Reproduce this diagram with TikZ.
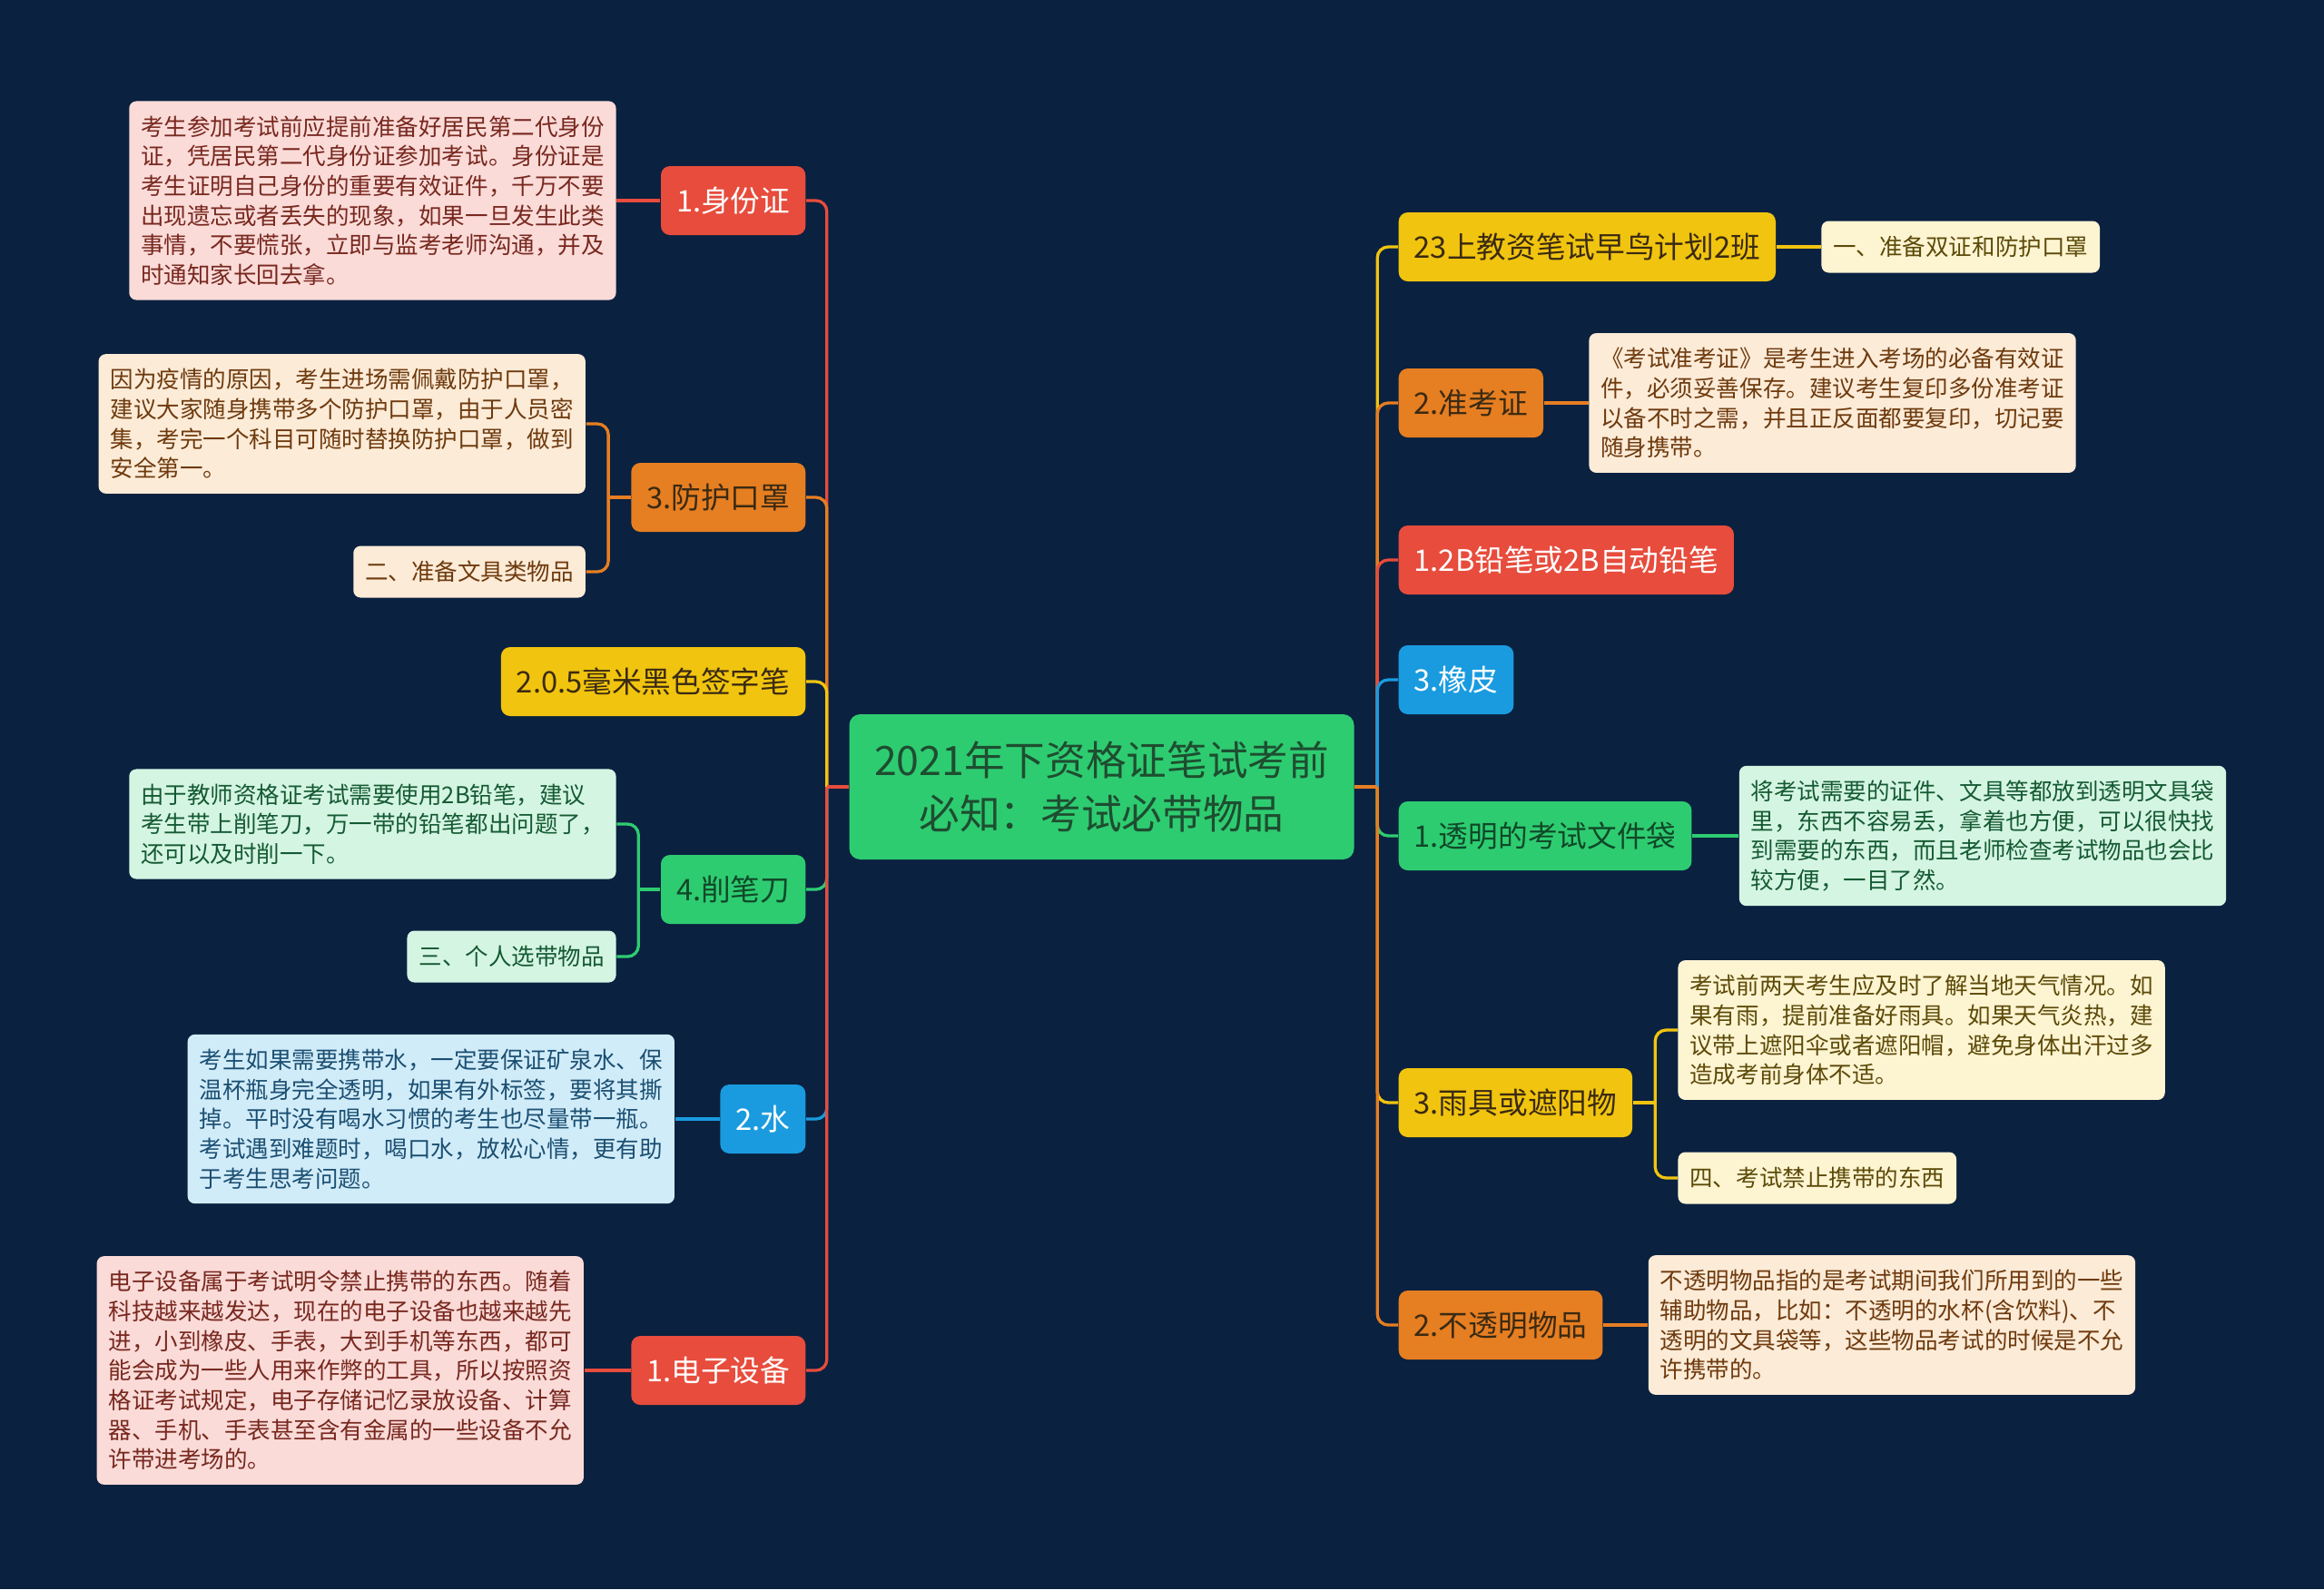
\documentclass[tikz,border=0pt]{standalone}
\usepackage{fontspec}
\setmainfont{Noto Sans CJK SC}
\usetikzlibrary{positioning, backgrounds}

\definecolor{bgnavy}{HTML}{0A2140}
\definecolor{redc}{HTML}{E74C3C}
\definecolor{orangec}{HTML}{E67E22}
\definecolor{yellowc}{HTML}{F1C40F}
\definecolor{greenc}{HTML}{2ECC71}
\definecolor{bluec}{HTML}{1A9BDF}
\definecolor{redlt}{HTML}{FADBD8}
\definecolor{orangelt}{HTML}{FCEBD7}
\definecolor{yellowlt}{HTML}{FDF4D2}
\definecolor{greenlt}{HTML}{D5F5E3}
\definecolor{bluelt}{HTML}{D1ECF9}
\definecolor{redtxt}{HTML}{78281F}
\definecolor{orangetxt}{HTML}{6E3A0E}
\definecolor{yellowtxt}{HTML}{5C4A08}
\definecolor{greentxt}{HTML}{145A32}
\definecolor{bluetxt}{HTML}{1B4F72}
\definecolor{topictxt}{HTML}{3A2A12}
\definecolor{roottxt}{HTML}{1E4D30}

\begin{document}
\begin{tikzpicture}[
    root/.style={rectangle, rounded corners=0.12cm, fill=greenc, text=roottxt, font=\fontsize{12.7}{16.7}\selectfont, align=center, minimum width=5.56cm, minimum height=1.6cm},
    topic/.style={rectangle, rounded corners=0.1cm, font=\fontsize{9.3}{11}\selectfont, minimum height=0.76cm, inner xsep=0.17cm},
    note/.style={rectangle, rounded corners=0.08cm, font=\fontsize{7.26}{9.3}\selectfont, align=left, inner xsep=0.13cm, inner ysep=0.16cm, minimum height=0.57cm},
    redtopic/.style={topic, fill=redc, text=white},
    orangetopic/.style={topic, fill=orangec, text=topictxt},
    yellowtopic/.style={topic, fill=yellowc, text=topictxt},
    greentopic/.style={topic, fill=greenc, text=greentxt!80!black},
    bluetopic/.style={topic, fill=bluec, text=white},
    rednote/.style={note, fill=redlt, text=redtxt},
    orangenote/.style={note, fill=orangelt, text=orangetxt},
    yellownote/.style={note, fill=yellowlt, text=yellowtxt},
    greennote/.style={note, fill=greenlt, text=greentxt},
    bluenote/.style={note, fill=bluelt, text=bluetxt},
    link/.style={line width=0.033cm},
    fork/.style={link, rounded corners=0.12cm}
]

% Root
\node[root] (root) at (12.135,-8.67) {2021年下资格证笔试考前\\必知：考试必带物品};
\coordinate[left=0.24cm of root] (ltrunk);
\coordinate[right=0.25cm of root] (rtrunk);

% Left topics
\node[redtopic, anchor=east] (idcard) at (8.88,-2.21) {1.身份证};
\node[orangetopic, anchor=east] (mask) at (8.88,-5.48) {3.防护口罩};
\node[yellowtopic, anchor=east] (pen) at (8.88,-7.51) {2.0.5毫米黑色签字笔};
\node[greentopic, anchor=east] (sharpener) at (8.88,-9.80) {4.削笔刀};
\node[bluetopic, anchor=east] (water) at (8.88,-12.33) {2.水};
\node[redtopic, anchor=east] (device) at (8.88,-15.10) {1.电子设备};

% Right topics
\node[yellowtopic, anchor=west] (plan) at (15.40,-2.72) {23上教资笔试早鸟计划2班};
\node[orangetopic, anchor=west] (ticket) at (15.40,-4.44) {2.准考证};
\node[redtopic, anchor=west] (pencil) at (15.40,-6.17) {1.2B铅笔或2B自动铅笔};
\node[bluetopic, anchor=west] (eraser) at (15.40,-7.49) {3.橡皮};
\node[greentopic, anchor=west] (folder) at (15.40,-9.21) {1.透明的考试文件袋};
\node[yellowtopic, anchor=west] (umbrella) at (15.40,-12.15) {3.雨具或遮阳物};
\node[orangetopic, anchor=west] (opaque) at (15.40,-14.60) {2.不透明物品};

% Left notes
\node[rednote, left=0.48cm of idcard] (idcard_note) {考生参加考试前应提前准备好居民第二代身份\\证，凭居民第二代身份证参加考试。身份证是\\考生证明自己身份的重要有效证件，千万不要\\出现遗忘或者丢失的现象，如果一旦发生此类\\事情，不要慌张，立即与监考老师沟通，并及\\时通知家长回去拿。};
\node[orangenote, left=0.49cm of mask, yshift=0.81cm] (mask_note) {因为疫情的原因，考生进场需佩戴防护口罩，\\建议大家随身携带多个防护口罩，由于人员密\\集，考完一个科目可随时替换防护口罩，做到\\安全第一。};
\node[orangenote, left=0.49cm of mask, yshift=-0.82cm] (mask_tip) {二、准备文具类物品};
\node[greennote, left=0.48cm of sharpener, yshift=0.72cm] (sharpener_note) {由于教师资格证考试需要使用2B铅笔，建议\\考生带上削笔刀，万一带的铅笔都出问题了，\\还可以及时削一下。};
\node[greennote, left=0.48cm of sharpener, yshift=-0.74cm] (sharpener_tip) {三、个人选带物品};
\node[bluenote, left=0.49cm of water] (water_note) {考生如果需要携带水，一定要保证矿泉水、保\\温杯瓶身完全透明，如果有外标签，要将其撕\\掉。平时没有喝水习惯的考生也尽量带一瓶。\\考试遇到难题时，喝口水，放松心情，更有助\\于考生思考问题。};
\node[rednote, left=0.51cm of device] (device_note) {电子设备属于考试明令禁止携带的东西。随着\\科技越来越发达，现在的电子设备也越来越先\\进，小到橡皮、手表，大到手机等东西，都可\\能会成为一些人用来作弊的工具，所以按照资\\格证考试规定，电子存储记忆录放设备、计算\\器、手机、手表甚至含有金属的一些设备不允\\许带进考场的。};

% Right notes
\node[yellownote, right=0.49cm of plan] (plan_tip) {一、准备双证和防护口罩};
\node[orangenote, right=0.49cm of ticket] (ticket_note) {《考试准考证》是考生进入考场的必备有效证\\件，必须妥善保存。建议考生复印多份准考证\\以备不时之需，并且正反面都要复印，切记要\\随身携带。};
\node[greennote, right=0.51cm of folder] (folder_note) {将考试需要的证件、文具等都放到透明文具袋\\里，东西不容易丢，拿着也方便，可以很快找\\到需要的东西，而且老师检查考试物品也会比\\较方便，一目了然。};
\node[yellownote, right=0.49cm of umbrella, yshift=0.80cm] (umbrella_note) {考试前两天考生应及时了解当地天气情况。如\\果有雨，提前准备好雨具。如果天气炎热，建\\议带上遮阳伞或者遮阳帽，避免身体出汗过多\\造成考前身体不适。};
\node[yellownote, right=0.49cm of umbrella, yshift=-0.83cm] (umbrella_tip) {四、考试禁止携带的东西};
\node[orangenote, right=0.49cm of opaque] (opaque_note) {不透明物品指的是考试期间我们所用到的一些\\辅助物品，比如：不透明的水杯(含饮料)、不\\透明的文具袋等，这些物品考试的时候是不允\\许携带的。};

% Root to left topics
\draw[link, redc] (root) -- (ltrunk);
\draw[fork, redc] (ltrunk) |- (idcard.east);
\draw[link, orangec] (root) -- (ltrunk);
\draw[fork, orangec] (ltrunk) |- (mask.east);
\draw[link, yellowc] (root) -- (ltrunk);
\draw[fork, yellowc] (ltrunk) |- (pen.east);
\draw[link, greenc] (root) -- (ltrunk);
\draw[fork, greenc] (ltrunk) |- (sharpener.east);
\draw[link, bluec] (root) -- (ltrunk);
\draw[fork, bluec] (ltrunk) |- (water.east);
\draw[link, redc] (root) -- (ltrunk);
\draw[fork, redc] (ltrunk) |- (device.east);

% Root to right topics
\draw[link, yellowc] (root) -- (rtrunk);
\draw[fork, yellowc] (rtrunk) |- (plan.west);
\draw[link, orangec] (root) -- (rtrunk);
\draw[fork, orangec] (rtrunk) |- (ticket.west);
\draw[link, redc] (root) -- (rtrunk);
\draw[fork, redc] (rtrunk) |- (pencil.west);
\draw[link, bluec] (root) -- (rtrunk);
\draw[fork, bluec] (rtrunk) |- (eraser.west);
\draw[link, greenc] (root) -- (rtrunk);
\draw[fork, greenc] (rtrunk) |- (folder.west);
\draw[link, yellowc] (root) -- (rtrunk);
\draw[fork, yellowc] (rtrunk) |- (umbrella.west);
\draw[link, orangec] (root) -- (rtrunk);
\draw[fork, orangec] (rtrunk) |- (opaque.west);

% Topics to notes
\draw[link, redc] (idcard) -- (idcard_note);
\coordinate[left=0.245cm of mask] (mask_fork);
\draw[link, orangec] (mask) -- (mask_fork);
\draw[fork, orangec] (mask_fork) |- (mask_note.east);
\draw[fork, orangec] (mask_fork) |- (mask_tip.east);
\coordinate[left=0.24cm of sharpener] (sharpener_fork);
\draw[link, greenc] (sharpener) -- (sharpener_fork);
\draw[fork, greenc] (sharpener_fork) |- (sharpener_note.east);
\draw[fork, greenc] (sharpener_fork) |- (sharpener_tip.east);
\draw[link, bluec] (water) -- (water_note);
\draw[link, redc] (device) -- (device_note);

\draw[link, yellowc] (plan) -- (plan_tip);
\draw[link, orangec] (ticket) -- (ticket_note);
\draw[link, greenc] (folder) -- (folder_note);
\coordinate[right=0.245cm of umbrella] (umbrella_fork);
\draw[link, yellowc] (umbrella) -- (umbrella_fork);
\draw[fork, yellowc] (umbrella_fork) |- (umbrella_note.west);
\draw[fork, yellowc] (umbrella_fork) |- (umbrella_tip.west);
\draw[link, orangec] (opaque) -- (opaque_note);

\begin{scope}[on background layer]
    \fill[bgnavy] (0,0) rectangle (25.6,-17.51);
\end{scope}

\end{tikzpicture}
\end{document}
